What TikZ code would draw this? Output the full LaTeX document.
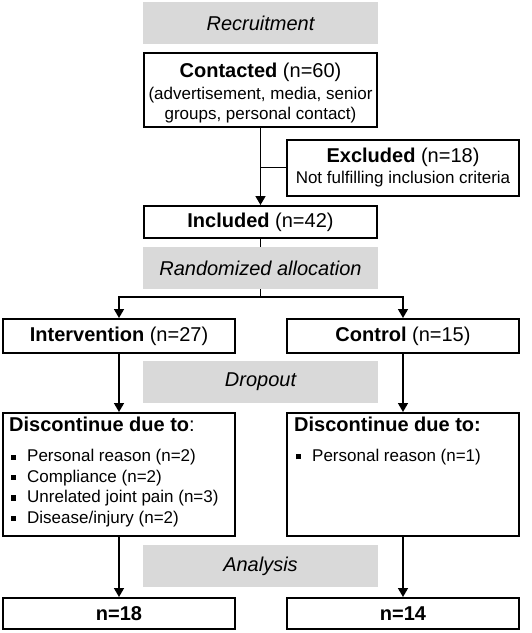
\documentclass[tikz,border=0pt]{standalone}
\usepackage{fontspec}
\setmainfont{Liberation Sans}
\usetikzlibrary{positioning, arrows.meta, calc}
\definecolor{PhaseGrey}{HTML}{D9D9D9}
\newcommand{\ttl}[1]{{\fontsize{20}{24}\selectfont #1}}
\newcommand{\bul}{\hspace*{2pt}\rule[2.2pt]{5pt}{5pt}\hspace{11pt}}

\begin{document}
\begin{tikzpicture}[
    x=1pt, y=-1pt,
    font=\fontsize{17}{19.5}\selectfont,
    box/.style={draw=black, line width=2pt, minimum width=232pt, inner sep=0pt, align=center},
    phase/.style={fill=PhaseGrey, minimum width=235pt, minimum height=42pt, inner sep=0pt,
      font=\fontsize{20}{24}\selectfont\itshape},
    list/.style={inner sep=0pt, align=left, font=\fontsize{17}{20.5}\selectfont},
    arr/.style={-{Triangle[length=9pt,width=10pt]}, line width=1.6pt},
    link/.style={line width=1.6pt}
  ]
  \useasboundingbox (0,0) rectangle (532,633);
  % phases
  \node[phase] (recr) at (260.5,23)  {Recruitment};
  \node[phase] (rand) at (260.5,268) {Randomized allocation};
  \node[phase] (drop) at (260.5,382) {Dropout};
  \node[phase] (anal) at (260.5,566) {Analysis};
  % boxes
  \node[box, minimum width=233pt, minimum height=74pt] (cont) at (260.5,90)
    {\rule{0pt}{20.6pt}\ttl{\textbf{Contacted} (n=60)}\\[2.5pt](advertisement, media, senior\\groups, personal contact)};
  \node[box, minimum height=56pt] (excl) at (403,167.5)
    {\ttl{\textbf{Excluded} (n=18)}\\[1.5pt]Not fulfilling inclusion criteria};
  \node[box, minimum width=233pt, minimum height=32pt] (incl) at (260.5,222) {\ttl{\textbf{Included} (n=42)}};
  \node[box, minimum height=34pt] (intv) at (119,336) {\ttl{\textbf{Intervention} (n=27)}};
  \node[box, minimum height=34pt] (ctrl) at (403,336) {\ttl{\textbf{Control} (n=15)}};
  \node[box, minimum height=123pt] (discL) at (119,474.5) {};
  \node[box, minimum height=123pt] (discR) at (403,474.5) {};
  \node[list, anchor=north west] (reasL) at ($(discL.north west)+(7,5)$)
    {\ttl{\textbf{Discontinue due to}:}\\[9.5pt]
     \bul Personal reason (n=2)\\
     \bul Compliance (n=2)\\
     \bul Unrelated joint pain (n=3)\\
     \bul Disease/injury (n=2)};
  \node[list, anchor=north west] (reasR) at ($(discR.north west)+(8,5)$)
    {\ttl{\textbf{Discontinue due to:}}\\[9.5pt]
     \bul Personal reason (n=1)};
  \node[box, minimum height=31pt] (finL) at (119,613.5) {\ttl{\textbf{n=18}}};
  \node[box, minimum height=31pt] (finR) at (403,613.5) {\ttl{\textbf{n=14}}};
  % connectors
  \draw[arr] (cont.south) -- (incl.north);
  \draw[link] (excl.west) -- (excl.west -| cont.south);
  \draw[link] (incl.south) -- (rand.north);
  \coordinate (split) at ($(rand.south)+(0,8)$);
  \draw[link] (rand.south) -- (split);
  \foreach \g in {intv, ctrl}{\draw[arr] (split) -| (\g.north);}
  \foreach \a/\b in {intv/discL, ctrl/discR, discL/finL, discR/finR}{\draw[arr] (\a.south) -- (\b.north);}
\end{tikzpicture}
\end{document}
